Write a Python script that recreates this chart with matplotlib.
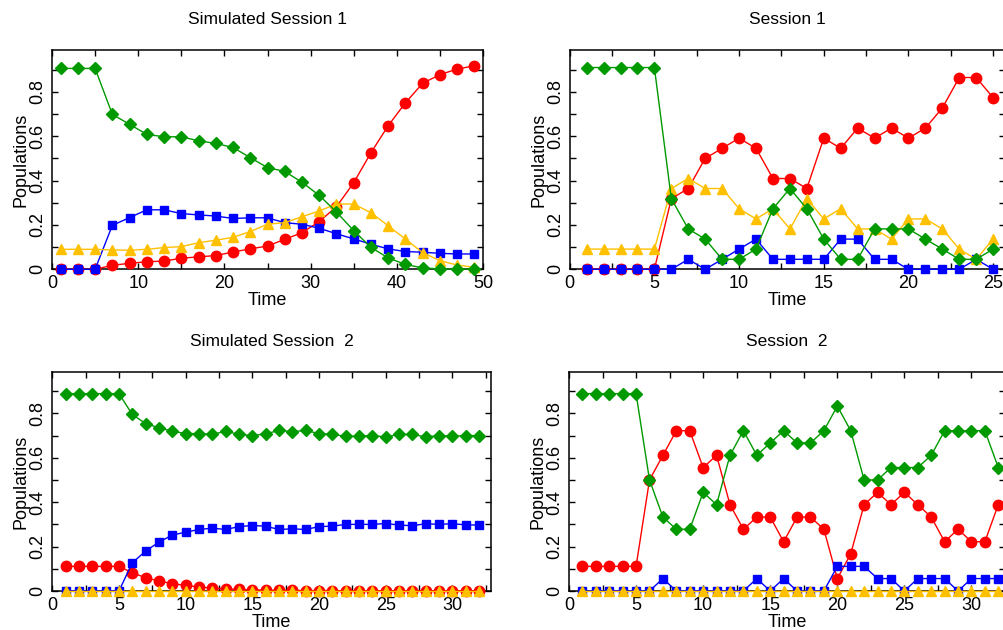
import numpy as np
import matplotlib.pyplot as plt
from matplotlib.ticker import MultipleLocator

plt.rcParams['font.family'] = ['Liberation Sans', 'DejaVu Sans']

# Simulated Session 1 (every second step)
sim1_t = list(range(1, 50, 2))
sim1_red = [0, 0, 0, 0.018, 0.027, 0.034, 0.037, 0.05, 0.056, 0.062, 0.078, 0.092, 0.105,
            0.135, 0.165, 0.215, 0.282, 0.39, 0.525, 0.647, 0.75, 0.838, 0.877, 0.902, 0.917]
sim1_blue = [0, 0, 0, 0.198, 0.233, 0.268, 0.268, 0.251, 0.245, 0.24, 0.229, 0.232, 0.232,
             0.21, 0.203, 0.185, 0.16, 0.137, 0.113, 0.092, 0.08, 0.077, 0.072, 0.069, 0.069]
sim1_green = [0.905, 0.905, 0.905, 0.698, 0.653, 0.608, 0.597, 0.597, 0.579, 0.567, 0.549, 0.503, 0.458,
              0.441, 0.392, 0.333, 0.258, 0.174, 0.099, 0.051, 0.022, 0.006, 0.002, 0.001, 0.001]
sim1_orange = [0.09, 0.09, 0.09, 0.087, 0.086, 0.09, 0.098, 0.102, 0.12, 0.131, 0.144, 0.17, 0.203,
               0.21, 0.237, 0.263, 0.294, 0.294, 0.255, 0.196, 0.136, 0.075, 0.039, 0.019, 0.009]

# Session 1 (22 subjects)
s1_t = list(range(1, 26))
s1_red = [0, 0, 0, 0, 0, 0.318, 0.364, 0.5, 0.545, 0.591, 0.545, 0.409, 0.409,
          0.364, 0.591, 0.545, 0.636, 0.591, 0.636, 0.591, 0.636, 0.727, 0.864, 0.864, 0.773]
s1_blue = [0, 0, 0, 0, 0, 0, 0.045, 0, 0.045, 0.091, 0.136, 0.045, 0.045,
           0.045, 0.045, 0.136, 0.136, 0.045, 0.045, 0, 0, 0, 0, 0.045, 0]
s1_green = [0.909, 0.909, 0.909, 0.909, 0.909, 0.318, 0.182, 0.136, 0.045, 0.045, 0.091, 0.273, 0.364,
            0.273, 0.136, 0.045, 0.045, 0.182, 0.182, 0.182, 0.136, 0.091, 0.045, 0.045, 0.091]
s1_orange = [0.091, 0.091, 0.091, 0.091, 0.091, 0.364, 0.409, 0.364, 0.364, 0.273, 0.227, 0.273, 0.182,
             0.318, 0.227, 0.273, 0.182, 0.182, 0.136, 0.227, 0.227, 0.182, 0.091, 0.045, 0.136]

# Simulated Session 2
sim2_t = list(range(1, 33))
sim2_red = [0.111, 0.111, 0.111, 0.111, 0.111, 0.082, 0.06, 0.045, 0.033, 0.025, 0.018, 0.013, 0.01,
            0.007, 0.005, 0.004, 0.003, 0.003, 0.002, 0.002, 0.002, 0.001, 0.001, 0.001, 0.001,
            0.001, 0.001, 0.001, 0.001, 0.001, 0.001, 0.001]
sim2_blue = [0, 0, 0, 0, 0, 0.127, 0.18, 0.22, 0.252, 0.265, 0.277, 0.283, 0.277,
             0.29, 0.295, 0.292, 0.277, 0.28, 0.277, 0.29, 0.292, 0.3, 0.3, 0.3, 0.304,
             0.297, 0.294, 0.303, 0.3, 0.303, 0.298, 0.297]
sim2_green = [0.889, 0.889, 0.889, 0.889, 0.889, 0.795, 0.754, 0.735, 0.72, 0.709, 0.709, 0.705, 0.72,
              0.705, 0.7, 0.708, 0.723, 0.718, 0.723, 0.709, 0.705, 0.697, 0.697, 0.7, 0.694,
              0.705, 0.705, 0.694, 0.7, 0.697, 0.7, 0.7]
sim2_orange = [0] * 32

# Session 2 (18 subjects)
s2_t = list(range(1, 33))
s2_red = [0.111, 0.111, 0.111, 0.111, 0.111, 0.5, 0.611, 0.722, 0.722, 0.556, 0.611, 0.389, 0.278,
          0.333, 0.333, 0.222, 0.333, 0.333, 0.278, 0.056, 0.167, 0.389, 0.444, 0.389, 0.444,
          0.389, 0.333, 0.222, 0.278, 0.222, 0.222, 0.389]
s2_blue = [0, 0, 0, 0, 0, 0, 0.056, 0, 0, 0, 0, 0, 0,
           0.056, 0, 0.056, 0, 0, 0, 0.111, 0.111, 0.111, 0.056, 0.056, 0,
           0.056, 0.056, 0.056, 0, 0.056, 0.056, 0.056]
s2_green = [0.889, 0.889, 0.889, 0.889, 0.889, 0.5, 0.333, 0.278, 0.278, 0.444, 0.389, 0.611, 0.722,
            0.611, 0.667, 0.722, 0.667, 0.667, 0.722, 0.833, 0.722, 0.5, 0.5, 0.556, 0.556,
            0.556, 0.611, 0.722, 0.722, 0.722, 0.722, 0.556]
s2_orange = [0] * 32

W, H = 1004, 630


def panel(fig, box, t, red, blue, green, orange, title, xmax, xmajor, ytop):
    # box in pixels: left, right, top, bottom
    l, r, top, bot = box
    ax = fig.add_axes([l / W, (H - bot) / H, (r - l) / W, (bot - top) / H])
    ax.plot(t, red, marker='o', ms=7.5, c='#ff0000', lw=1, clip_on=False, zorder=3)
    ax.plot(t, blue, marker='s', ms=6, c='#0000ff', lw=1, clip_on=False, zorder=4)
    ax.plot(t, orange, marker='^', ms=7, c='#ffc000', lw=1, clip_on=False, zorder=5)
    ax.plot(t, green, marker='D', ms=6.2, c='#009900', lw=1, clip_on=False, zorder=6)

    ax.set_xlim(0, xmax)
    ax.set_ylim(0, ytop)
    ax.xaxis.set_major_locator(MultipleLocator(xmajor))
    ax.xaxis.set_minor_locator(MultipleLocator(xmajor / 2))
    ax.yaxis.set_minor_locator(MultipleLocator(0.1))
    ax.set_yticks([0, 0.2, 0.4, 0.6, 0.8], ['0', '0.2', '0.4', '0.6', '0.8'])
    ax.tick_params(which='both', direction='in', top=True, right=True,
                   length=4.5, width=1, labelsize=13)
    ax.tick_params(axis='x', pad=4)
    ax.tick_params(axis='y', pad=4)
    for lab in ax.get_yticklabels():
        lab.set_rotation(90)
        lab.set_va('center')
    for s in ax.spines.values():
        s.set_linewidth(1.1)
    ax.set_title(title, fontsize=12.5, pad=19)
    ax.set_xlabel('Time', fontsize=13, labelpad=0)
    ax.set_ylabel('Populations', fontsize=13, labelpad=0)
    return ax


fig = plt.figure(figsize=(W / 100, H / 100), dpi=100)

panel(fig, (52, 483, 50, 269.3), sim1_t, sim1_red, sim1_blue, sim1_green, sim1_orange,
      'Simulated Session 1', 50, 10, 0.988)
panel(fig, (569.7, 1005, 50, 269.3), s1_t, s1_red, s1_blue, s1_green, s1_orange,
      'Session 1', 25.7, 5, 0.988)
panel(fig, (52.3, 491, 372.3, 591), sim2_t, sim2_red, sim2_blue, sim2_green, sim2_orange,
      'Simulated Session  2', 32.9, 5, 0.985)
panel(fig, (569, 1005, 372.3, 591), s2_t, s2_red, s2_blue, s2_green, s2_orange,
      'Session  2', 32.5, 5, 0.985)

fig.savefig('out.png', dpi=100)
